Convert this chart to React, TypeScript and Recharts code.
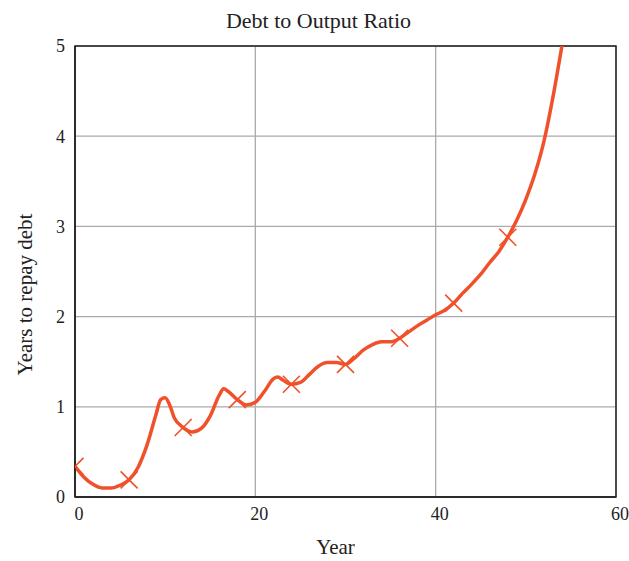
import React from 'react';
import { ComposedChart, Line, Scatter, XAxis, YAxis, CartesianGrid, ReferenceArea } from 'recharts';

const years = [0, 1, 2, 3, 4, 5, 6, 7, 8, 9, 9.5, 10, 10.5, 11, 12, 13, 14, 15, 16, 16.5, 17, 18, 19, 20, 21, 22, 22.5, 23, 24, 25, 26, 27, 28, 29, 30, 31, 32, 33, 34, 35, 36, 37, 38, 39, 40, 41, 42, 43, 44, 45, 46, 47, 48, 49, 50, 51, 52, 53, 54];
const ratio = [0.34, 0.22, 0.14, 0.1, 0.1, 0.13, 0.19, 0.33, 0.58, 0.92, 1.08, 1.1, 1.02, 0.88, 0.77, 0.72, 0.76, 0.9, 1.13, 1.2, 1.17, 1.08, 1.02, 1.05, 1.17, 1.31, 1.33, 1.3, 1.25, 1.27, 1.36, 1.45, 1.49, 1.49, 1.47, 1.54, 1.63, 1.69, 1.72, 1.72, 1.76, 1.83, 1.9, 1.96, 2.02, 2.07, 2.15, 2.26, 2.36, 2.47, 2.6, 2.72, 2.88, 3.07, 3.3, 3.58, 3.94, 4.43, 5.0];
const markerYears = [0, 6, 12, 18, 24, 30, 36, 42, 48];
const markerRatio = [0.34, 0.19, 0.77, 1.08, 1.25, 1.47, 1.76, 2.15, 2.88];
const xTicks = [0, 20, 40, 60];
const yTicks = [0, 1, 2, 3, 4, 5];

const lineData = years.map((y, i) => ({ year: y, ratio: ratio[i] }));
const markerData = markerYears.map((y, i) => ({ year: y, marker: markerRatio[i] }));

const COLOR = '#f0502a';
const FONT = '"Liberation Serif", "Times New Roman", serif';

const Cross = (props: any) => {
  const { cx, cy } = props;
  const s = 8.5;
  return (
    <g stroke={COLOR} strokeWidth={1.6}>
      <line x1={cx - s} y1={cy - s} x2={cx + s} y2={cy + s} />
      <line x1={cx - s} y1={cy + s} x2={cx + s} y2={cy - s} />
    </g>
  );
};

export default function App() {
  return (
    <div style={{ position: 'absolute', left: 0, top: 0, width: 629, height: 561, background: '#fff' }}>
      <div
        style={{
          position: 'absolute',
          left: 0,
          top: 8,
          width: 629,
          textAlign: 'center',
          fontFamily: FONT,
          fontSize: 22,
          lineHeight: '25px',
          color: '#222',
          paddingLeft: 8,
          boxSizing: 'border-box',
        }}
      >
        Debt to Output Ratio
      </div>
      <ComposedChart
        width={629}
        height={561}
        data={lineData}
        margin={{ top: 46, right: 13, bottom: 0, left: 0 }}
      >
        <CartesianGrid stroke="#aaa" strokeWidth={1.3} />
        <XAxis
          dataKey="year"
          type="number"
          domain={[0, 60]}
          ticks={xTicks}
          allowDataOverflow
          height={64}
          tickLine={false}
          axisLine={{ stroke: '#222', strokeWidth: 1.5 }}
          tick={{ fontFamily: FONT, fontSize: 18, fill: '#222', dx: 4 }}
          tickMargin={4}
          label={{ value: 'Year', position: 'insideBottom', offset: 7, dx: -10, style: { fontFamily: FONT, fontSize: 21, fill: '#222' } }}
        />
        <YAxis
          type="number"
          domain={[0, 5]}
          ticks={yTicks}
          allowDataOverflow
          width={75}
          tickLine={false}
          axisLine={{ stroke: '#222', strokeWidth: 1.5 }}
          tick={{ fontFamily: FONT, fontSize: 18, fill: '#222' }}
          tickMargin={4}
          label={{ value: 'Years to repay debt', angle: -90, position: 'insideLeft', offset: 25, dy: 23, style: { fontFamily: FONT, fontSize: 21, fill: '#222', textAnchor: 'middle' } }}
        />
        <ReferenceArea x1={0} x2={60} y1={0} y2={5} fill="none" stroke="#222" strokeWidth={1.5} fillOpacity={0} />
        <Line
          type="monotone"
          dataKey="ratio"
          stroke={COLOR}
          strokeWidth={3.5}
          dot={false}
          isAnimationActive={false}
        />
        <Scatter data={markerData} dataKey="marker" shape={Cross} isAnimationActive={false} />
      </ComposedChart>
    </div>
  );
}
